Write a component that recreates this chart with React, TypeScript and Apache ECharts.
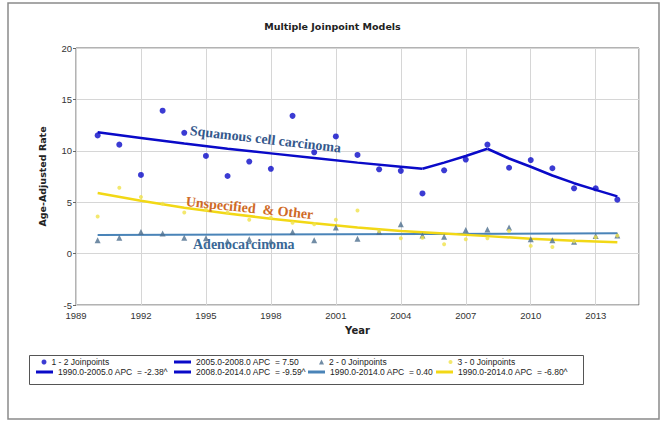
import React, { useEffect, useRef } from "react";
import * as echarts from "echarts";

const years = [1990, 1991, 1992, 1993, 1994, 1995, 1996, 1997, 1998, 1999, 2000, 2001, 2002, 2003, 2004, 2005, 2006, 2007, 2008, 2009, 2010, 2011, 2012, 2013, 2014];
const squamous = [11.5, 10.6, 7.65, 13.9, 11.75, 9.5, 7.55, 8.95, 8.25, 13.4, 9.85, 11.4, 9.6, 8.2, 8.05, 5.85, 8.1, 9.15, 10.6, 8.35, 9.1, 8.3, 6.35, 6.35, 5.25];
const adeno = [1.3, 1.55, 2.1, 1.95, 1.55, 1.5, 1.2, 1.4, 1.2, 2.1, 1.3, 2.55, 1.45, 2.1, 2.85, 1.75, 1.65, 2.3, 2.35, 2.55, 1.4, 1.3, 1.15, 1.7, 1.75];
const unspec = [3.6, 6.4, 5.5, 4.85, 4.0, 4.3, 4.0, 3.3, 3.5, 3.0, 2.85, 3.3, 4.2, 2.2, 1.5, 1.55, 0.9, 1.4, 1.5, 2.2, 0.75, 0.65, 1.2, 1.6, 1.75];

const sqSeg1Years = [1990, 1992, 1994, 1996, 1998, 2000, 2002, 2004, 2005];
const sqSeg1Fit = [11.8, 11.25, 10.7, 10.2, 9.75, 9.3, 8.85, 8.45, 8.25];
const sqSeg2Years = [2005, 2006, 2007, 2008];
const sqSeg2Fit = [8.25, 8.85, 9.5, 10.2];
const sqSeg3Years = [2008, 2009, 2010, 2011, 2012, 2013, 2014];
const sqSeg3Fit = [10.2, 9.25, 8.45, 7.6, 6.85, 6.2, 5.57];
const adenoFitYears = [1990, 2014];
const adenoFit = [1.8, 1.98];
const unspecFitYears = [1990, 1992, 1994, 1996, 1998, 2000, 2002, 2004, 2006, 2008, 2010, 2012, 2014];
const unspecFit = [5.9, 5.15, 4.45, 3.9, 3.4, 2.95, 2.55, 2.2, 1.95, 1.7, 1.45, 1.25, 1.1];

const N_SQ = "1 - 2 Joinpoints";
const N_SQ1 = "1990.0-2005.0 APC  = -2.38^";
const N_SQ2 = "2005.0-2008.0 APC  = 7.50";
const N_SQ3 = "2008.0-2014.0 APC  = -9.59^";
const N_AD = "2 - 0 Joinpoints";
const N_AD1 = "1990.0-2014.0 APC  = 0.40";
const N_UN = "3 - 0 Joinpoints";
const N_UN1 = "1990.0-2014.0 APC  = -6.80^";

const BLUE = "#0a0ac8";
const TEAL = "#4a84b8";
const TRI = "#4d6f8e";
const YEL = "#f2d816";
const YELDOT = "#f0e24a";

const pairs = (xs: number[], ys: number[]) => xs.map((x, i) => [x, ys[i]]);

const legendText = { fontSize: 8.5, fontFamily: "Liberation Sans", color: "#222" };
const mkLegend = (name: string, icon: string, left: number, top: number, w: number, h: number) => ({
  data: [{ name, icon }],
  left,
  top,
  orient: "vertical",
  itemWidth: w,
  itemHeight: h,
  padding: 0,
  selectedMode: false,
  textStyle: { ...legendText, lineHeight: 10 },
});

const annoStyle = (text: string, fill: string) => ({
  text,
  fill,
  fontSize: 14,
  fontWeight: "bold",
  fontFamily: "Liberation Serif",
  textAlign: "left",
  textVerticalAlign: "middle",
  shadowColor: "rgba(0,0,0,0.35)",
  shadowBlur: 2,
  shadowOffsetX: 1,
  shadowOffsetY: 1,
});

export default function App() {
  const ref = useRef<HTMLDivElement>(null);
  useEffect(() => {
    if (!ref.current) return;
    const chart = echarts.init(ref.current, undefined, { renderer: "svg" });
    const axisLabel = { fontSize: 9.5, color: "#333", fontFamily: "Liberation Sans" };
    const option: any = {
      animation: false,
      backgroundColor: "#fff",
      title: {
        text: "Multiple Joinpoint Models",
        left: "center",
        top: 16,
        textStyle: { fontSize: 9.5, fontWeight: "bold", fontFamily: "DejaVu Sans", color: "#222" },
      },
      grid: { left: 76, right: 26, top: 48, bottom: 121, show: true, borderColor: "#666", borderWidth: 1 },
      xAxis: {
        type: "value",
        min: 1989,
        max: 2015,
        interval: 3,
        name: "Year",
        nameLocation: "middle",
        nameGap: 20,
        nameTextStyle: { fontSize: 10, fontWeight: "bold", fontFamily: "DejaVu Sans", color: "#222" },
        axisLine: { show: false },
        axisTick: { show: false },
        axisLabel: { ...axisLabel, margin: 5, showMaxLabel: false, formatter: (v: number) => (v === 2015 ? "" : String(v)) },
        splitLine: { show: true, lineStyle: { color: "#d6d6d6" } },
      },
      yAxis: {
        type: "value",
        min: -5,
        max: 20,
        interval: 5,
        name: "Age-Adjusted Rate",
        nameLocation: "middle",
        nameRotate: 90,
        nameGap: 29,
        nameTextStyle: { fontSize: 9.5, fontWeight: "bold", fontFamily: "DejaVu Sans", color: "#222" },
        axisLine: { show: false },
        axisTick: { show: true, length: 3, lineStyle: { color: "#666" } },
        axisLabel: { ...axisLabel, margin: 4 },
        splitLine: { show: true, lineStyle: { color: "#d6d6d6" } },
      },
      legend: [
        mkLegend(N_SQ, "circle", 41.5, 357, 5, 5),
        mkLegend(N_SQ1, "rect", 36, 367, 17, 3),
        mkLegend(N_SQ2, "rect", 174, 357, 17, 3),
        mkLegend(N_SQ3, "rect", 174, 367, 17, 3),
        mkLegend(N_AD, "triangle", 319, 357, 5, 5),
        mkLegend(N_AD1, "rect", 308, 367, 17, 3),
        mkLegend(N_UN, "circle", 448.5, 357, 4, 4),
        mkLegend(N_UN1, "rect", 436, 367, 17, 3),
      ],
      series: [
        {
          name: N_SQ1, type: "line", data: pairs(sqSeg1Years, sqSeg1Fit), showSymbol: false, symbol: "none",
          lineStyle: { color: BLUE, width: 2.5 }, itemStyle: { color: BLUE }, z: 3,
        },
        {
          name: N_SQ2, type: "line", data: pairs(sqSeg2Years, sqSeg2Fit), showSymbol: false, symbol: "none",
          lineStyle: { color: BLUE, width: 2.5 }, itemStyle: { color: BLUE }, z: 3,
        },
        {
          name: N_SQ3, type: "line", data: pairs(sqSeg3Years, sqSeg3Fit), showSymbol: false, symbol: "none",
          lineStyle: { color: BLUE, width: 2.5 }, itemStyle: { color: BLUE }, z: 3,
        },
        {
          name: N_AD1, type: "line", data: pairs(adenoFitYears, adenoFit), showSymbol: false, symbol: "none",
          lineStyle: { color: TEAL, width: 2 }, itemStyle: { color: TEAL }, z: 3,
        },
        {
          name: N_UN1, type: "line", data: pairs(unspecFitYears, unspecFit), showSymbol: false, symbol: "none",
          lineStyle: { color: YEL, width: 2.5 }, itemStyle: { color: YEL }, z: 3,
        },
        {
          name: N_SQ, type: "scatter", data: pairs(years, squamous), symbol: "circle", symbolSize: 6,
          itemStyle: { color: BLUE }, z: 4,
        },
        {
          name: N_AD, type: "scatter", data: pairs(years, adeno), symbol: "triangle", symbolSize: 6,
          itemStyle: { color: TRI }, z: 4,
        },
        {
          name: N_UN, type: "scatter", data: pairs(years, unspec), symbol: "circle", symbolSize: 4,
          itemStyle: { color: YELDOT }, z: 4,
        },
      ],
      graphic: [
        {
          type: "rect", silent: true, z: 0,
          shape: { x: 8, y: 3, width: 651, height: 416 },
          style: { fill: "none", stroke: "#8a8a8a", lineWidth: 1.5 },
        },
        {
          type: "rect", silent: true, z: 0,
          shape: { x: 29.5, y: 355.5, width: 554, height: 29 },
          style: { fill: "none", stroke: "#555", lineWidth: 1 },
        },
        {
          type: "text", silent: true, z: 100, x: 190, y: 130.5, rotation: -0.115,
          style: annoStyle("Squamous cell carcinoma", "#34588c"),
        },
        {
          type: "text", silent: true, z: 100, x: 186, y: 201.5, rotation: -0.103,
          style: annoStyle("Unspecified  & Other", "#cf6a26"),
        },
        {
          type: "text", silent: true, z: 100, x: 193, y: 244,
          style: annoStyle("Adenocarcinoma", "#3a6896"),
        },
      ],
    };
    chart.setOption(option);
    return () => chart.dispose();
  }, []);
  return (
    <div
      ref={ref}
      style={{ position: "absolute", left: 0, top: 0, width: 665, height: 426, background: "#fff" }}
    />
  );
}
